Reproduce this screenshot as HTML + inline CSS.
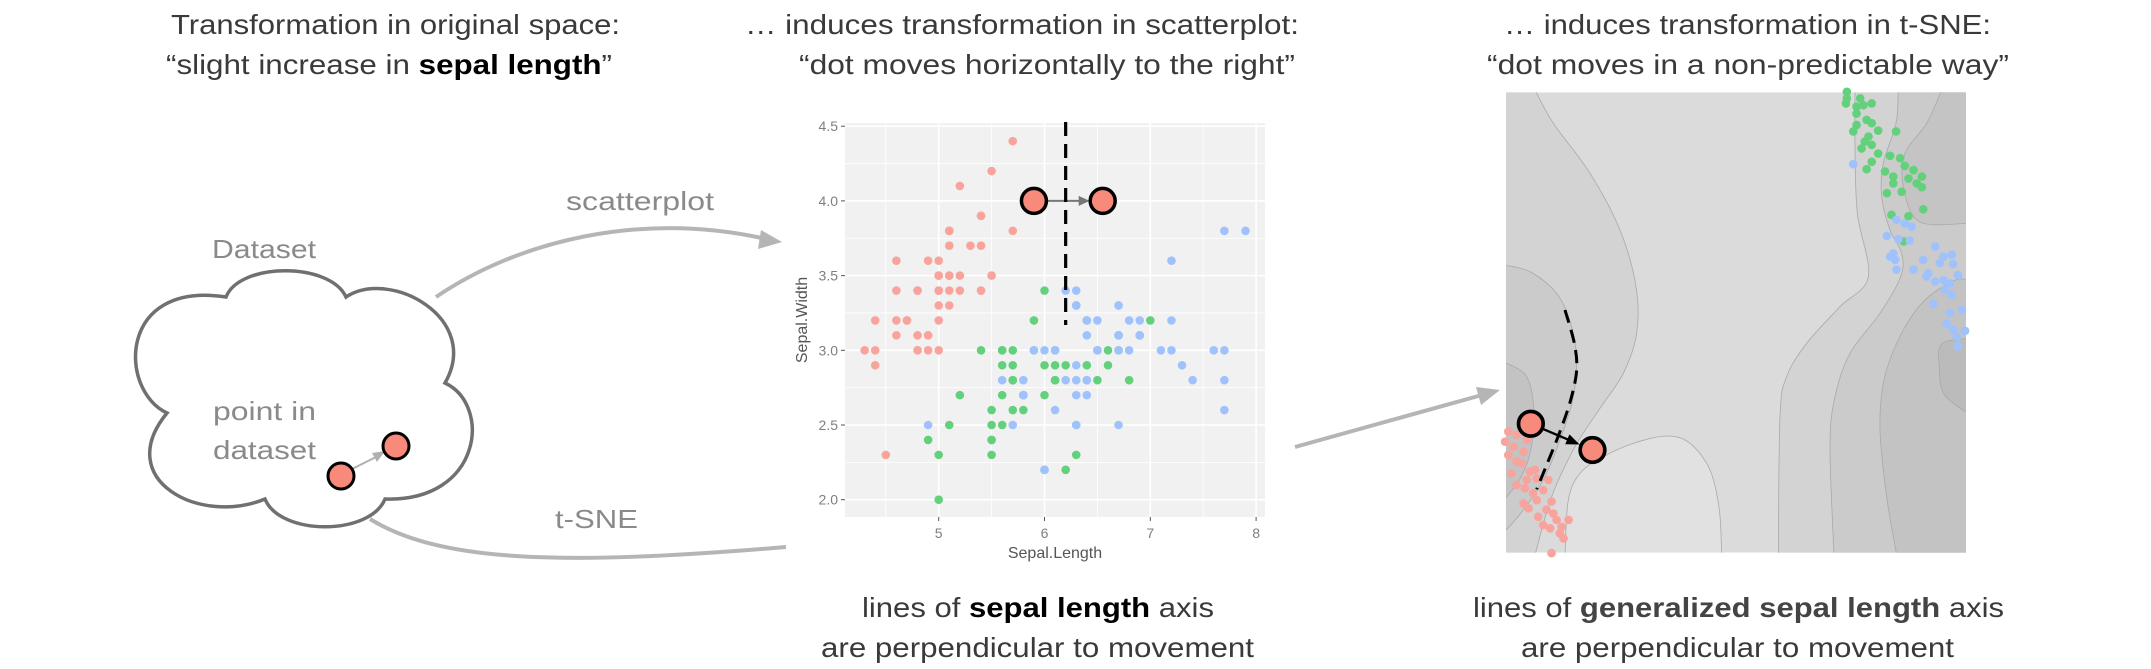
<!DOCTYPE html>
<html><head><meta charset="utf-8">
<style>
html,body{margin:0;padding:0;background:#fff;}
svg{display:block;}
text{font-family:"Liberation Sans",Arial,sans-serif;}
</style></head>
<body>
<svg id="fig" width="2151" height="669" viewBox="0 0 2151 669" xmlns="http://www.w3.org/2000/svg">
<defs>
<clipPath id="tsneClip"><rect x="78" y="37" width="1380" height="1381"/></clipPath>
</defs>
<rect width="2151" height="669" fill="#fff"/>

<!-- headings -->
<g fill="#3a3a3a" font-size="28">
<text x="171" y="34" textLength="449" lengthAdjust="spacingAndGlyphs">Transformation in original space:</text>
<text x="166" y="74" textLength="446" lengthAdjust="spacingAndGlyphs">“slight increase in <tspan font-weight="bold" fill="#000">sepal length</tspan>”</text>
</g>
<g fill="#3a3a3a" font-size="28">
<text x="745" y="34" textLength="554" lengthAdjust="spacingAndGlyphs">… induces transformation in scatterplot:</text>
<text x="799" y="74" textLength="496" lengthAdjust="spacingAndGlyphs">“dot moves horizontally to the right”</text>
</g>
<g fill="#3a3a3a" font-size="28">
<text x="1504" y="34" textLength="487" lengthAdjust="spacingAndGlyphs">… induces transformation in t-SNE:</text>
<text x="1487" y="74" textLength="522" lengthAdjust="spacingAndGlyphs">“dot moves in a non-predictable way”</text>
</g>
<g fill="#3a3a3a" font-size="28">
<text x="862" y="617" textLength="352" lengthAdjust="spacingAndGlyphs">lines of <tspan font-weight="bold" fill="#000">sepal length</tspan> axis</text>
<text x="821" y="657" textLength="433" lengthAdjust="spacingAndGlyphs">are perpendicular to movement</text>
</g>
<g fill="#3a3a3a" font-size="28">
<text x="1473" y="617" textLength="531" lengthAdjust="spacingAndGlyphs">lines of <tspan font-weight="bold" fill="#444">generalized sepal length</tspan> axis</text>
<text x="1521" y="657" textLength="433" lengthAdjust="spacingAndGlyphs">are perpendicular to movement</text>
</g>

<!-- cloud -->
<path fill="#fff" stroke="#707070" stroke-width="3.5"
 d="M226,297 C240,262 330,262 346,297 C390,268 482,318 445,383 C492,405 482,502 385,499 C370,536 280,536 265,499 C200,526 112,480 167,413 C118,390 118,280 226,297 Z"/>
<g fill="#8a8a8a" font-size="26">
<text x="212" y="258" textLength="104" lengthAdjust="spacingAndGlyphs">Dataset</text>
<text x="213" y="420" textLength="103" lengthAdjust="spacingAndGlyphs">point in</text>
<text x="213" y="459" textLength="103" lengthAdjust="spacingAndGlyphs">dataset</text>
<text x="566" y="210" textLength="148" lengthAdjust="spacingAndGlyphs">scatterplot</text>
<text x="555" y="528" textLength="83" lengthAdjust="spacingAndGlyphs">t-SNE</text>
</g>
<g>
<line x1="352" y1="469" x2="378" y2="456" stroke="#b0b0b0" stroke-width="2"/>
<polygon points="385,451 372,453 377,462" fill="#b0b0b0"/>
<ellipse cx="341" cy="476" rx="13" ry="13" fill="#f88a7c" stroke="#000" stroke-width="3"/>
<ellipse cx="396" cy="446" rx="13" ry="13" fill="#f88a7c" stroke="#000" stroke-width="3"/>
</g>

<!-- connecting arrows -->
<path d="M436,297 C520,240 640,212 762,238" fill="none" stroke="#b5b5b5" stroke-width="4"/>
<polygon points="782,242 761,230 758,249" fill="#b5b5b5"/>
<path d="M370,519 C440,562 560,566 786,547" fill="none" stroke="#b5b5b5" stroke-width="4"/>
<line x1="1295" y1="447" x2="1482" y2="395" stroke="#b5b5b5" stroke-width="4"/>
<polygon points="1500,390 1481,405 1476,387" fill="#b5b5b5"/>

<g id="scatter"></g>
<g id="tsne" transform="translate(1480,80) scale(0.33333)"></g>
</svg>

<script>
// ---------- Scatterplot data (iris sepal measurements) ----------
const setosaLength = [5.1,4.9,4.7,4.6,5.0,5.4,4.6,5.0,4.4,4.9,5.4,4.8,4.8,4.3,5.7,5.4,5.1,5.7,5.1,5.4,5.1,4.6,5.1,4.8,5.0,5.0,5.2,5.2,4.7,4.8,5.4,5.2,5.5,4.9,5.0,5.5,4.9,4.4,5.1,5.0,4.5,4.4,5.0,5.1,4.8,5.1,4.6,5.3,5.0];
const setosaWidth  = [3.5,3.0,3.2,3.1,3.6,3.9,3.4,3.4,2.9,3.1,3.7,3.4,3.0,3.0,4.4,3.9,3.5,3.8,3.8,3.4,3.7,3.6,3.3,3.4,3.0,3.4,3.5,3.4,3.2,3.1,3.4,4.1,4.2,3.1,3.2,3.5,3.6,3.0,3.4,3.5,2.3,3.2,3.5,3.8,3.0,3.8,3.2,3.7,3.3];
const versicolorLength = [7.0,6.4,6.9,5.5,6.5,5.7,6.3,4.9,6.6,5.2,5.0,5.9,6.0,6.1,5.6,6.7,5.6,5.8,6.2,5.6,5.9,6.1,6.3,6.1,6.4,6.6,6.8,6.7,6.0,5.7,5.5,5.5,5.8,6.0,5.4,6.0,6.7,6.3,5.6,5.5,5.5,6.1,5.8,5.0,5.6,5.7,5.7,6.2,5.1,5.7];
const versicolorWidth  = [3.2,3.2,3.1,2.3,2.8,2.8,3.3,2.4,2.9,2.7,2.0,3.0,2.2,2.9,2.9,3.1,3.0,2.7,2.2,2.5,3.2,2.8,2.5,2.8,2.9,3.0,2.8,3.0,2.9,2.6,2.4,2.4,2.7,2.7,3.0,3.4,3.1,2.3,3.0,2.5,2.6,3.0,2.6,2.3,2.7,3.0,2.9,2.9,2.5,2.8];
const virginicaLength = [6.3,5.8,7.1,6.3,6.5,7.6,4.9,7.3,6.7,7.2,6.5,6.4,6.8,5.7,5.8,6.4,6.5,7.7,7.7,6.0,6.9,5.6,7.7,6.3,6.7,7.2,6.2,6.1,6.4,7.2,7.4,7.9,6.4,6.3,6.1,7.7,6.3,6.4,6.0,6.9,6.7,6.9,5.8,6.8,6.7,6.7,6.3,6.5,6.2,5.9];
const virginicaWidth  = [3.3,2.7,3.0,2.9,3.0,3.0,2.5,2.9,2.5,3.6,3.2,2.7,3.0,2.5,2.8,3.2,3.0,3.8,2.6,2.2,3.2,2.8,2.8,2.7,3.3,3.2,2.8,3.0,2.8,3.0,2.8,3.8,2.8,2.8,2.6,3.0,3.4,3.1,3.0,3.1,3.1,3.1,2.7,3.2,3.3,3.0,2.5,3.0,3.4,3.0];
const xTicks = [5,6,7,8];
const yTicks = [2.0,2.5,3.0,3.5,4.0,4.5];
const xTickLabels = ["5","6","7","8"];
const yTickLabels = ["2.0","2.5","3.0","3.5","4.0","4.5"];
const movedFrom = [5.9, 4.0];
const movedTo = [6.55, 4.0];
const dashedX = 6.2;

// ---------- t-SNE embedding data (0-100 units) ----------
const tsneSetosaX = [0.5,2.3,-0.2,4.5,1.6,0.5,3.8,2.3,1.2,3.4,5.2,6.3,4.5,2.3,6.7,9.2,4.1,8.1,5.9,3.8,4.9,6.7,9.9,8.8,7.0,10.3,8.1,11.0,13.6,12.1,9.6,11.7,12.5,9.9];
const tsneSetosaY = [26.3,25.6,24.1,24.5,23.0,21.2,21.9,19.8,17.2,19.4,17.6,18.0,15.8,14.7,16.1,15.8,14.0,13.6,12.9,10.7,9.6,11.4,11.1,9.3,7.8,8.5,6.0,7.1,7.1,5.6,5.3,4.2,3.1,-0.1];
const tsneVersicolorX = [74.1,74.1,73.9,77.0,76.2,79.5,77.7,76.2,78.4,79.5,76.2,75.5,80.9,84.8,78.8,78.0,79.5,77.3,80.9,79.5,78.4,83.5,85.7,82.4,84.2,86.7,88.6,87.5,90.4,89.3,84.2,90.4,82.8,86.0,90.7,83.8,87.5,86.4];
const tsneVersicolorY = [100.1,98.7,97.6,98.7,96.9,97.6,97.2,95.4,94.0,93.3,92.9,91.5,91.7,91.5,90.4,89.3,88.6,87.8,86.7,84.9,83.3,86.2,85.7,82.8,81.7,84.0,83.1,81.3,81.7,80.2,80.2,79.4,78.1,78.4,74.6,73.4,73.1,67.6];
const tsneVirginicaX = [75.5,84.9,86.7,88.2,82.8,85.3,87.8,84.2,83.5,84.6,84.9,88.6,90.7,93.3,95.1,96.9,94.3,97.2,91.8,93.3,95.1,96.5,98.3,91.4,95.4,96.9,92.9,96.5,99.1,95.8,97.2,99.8,98.0,98.3];
const tsneVirginicaY = [84.4,72.3,71.5,70.8,68.8,68.1,67.8,65.0,64.3,63.6,61.5,61.5,63.6,66.5,64.3,64.7,62.9,62.7,60.7,58.9,59.2,58.5,60.3,60.0,57.1,56.0,54.0,52.1,52.7,49.7,48.4,48.2,46.9,44.8];
const tsneMovedFrom = [5.4, 28.0];
const tsneMovedTo = [18.8, 22.3];

const NS = "http://www.w3.org/2000/svg";
function mk(parent, tag, attrs){
  const e = document.createElementNS(NS, tag);
  for (const k in attrs) e.setAttribute(k, attrs[k]);
  parent.appendChild(e);
  return e;
}

// ----- scatterplot -----
const sc = document.getElementById('scatter');
const P = {x0:845, x1:1265, y0:123, y1:517};
const sx = v => 938.7 + (v-5)*105.8;
const sy = v => 499.7 - (v-2)*149.4;

const panel = mk(sc,'rect',{x:P.x0,y:P.y0,width:P.x1-P.x0,height:P.y1-P.y0,fill:'#f1f1f1'});



for (let v=4.5; v<=8.01; v+=0.5){
  const major = Math.abs(v-Math.round(v))<1e-6;
  const g = mk(sc,'line',{x1:sx(v),x2:sx(v),y1:P.y0,y2:P.y1,stroke:'#fff','stroke-width':major?1.6:0.8});
  
  
}
for (let v=2.0; v<=4.51; v+=0.25){
  const major = Math.abs(v*2-Math.round(v*2))<1e-6;
  const g = mk(sc,'line',{x1:P.x0,x2:P.x1,y1:sy(v),y2:sy(v),stroke:'#fff','stroke-width':major?1.6:0.8});
  
  
}
xTicks.forEach((v,i)=>{
  const t = mk(sc,'line',{x1:sx(v),x2:sx(v),y1:P.y1,y2:P.y1+4,stroke:'#555','stroke-width':1});
  
  
  const l = mk(sc,'text',{x:sx(v),y:538,'text-anchor':'middle','font-size':14,fill:'#7f7f7f'});
  l.textContent = xTickLabels[i];
  
  
});
yTicks.forEach((v,i)=>{
  const t = mk(sc,'line',{x1:P.x0-4,x2:P.x0,y1:sy(v),y2:sy(v),stroke:'#555','stroke-width':1});
  
  
  const l = mk(sc,'text',{x:P.x0-7,y:sy(v)+5,'text-anchor':'end','font-size':14,fill:'#7f7f7f'});
  l.textContent = yTickLabels[i];
  
  
});
const xt = mk(sc,'text',{x:1055,y:558,'text-anchor':'middle','font-size':16,fill:'#555'});
xt.textContent = 'Sepal.Length';


const yt = mk(sc,'text',{x:0,y:0,'text-anchor':'middle','font-size':16,fill:'#555',transform:'translate(807,320) rotate(-90)'});
yt.textContent = 'Sepal.Width';



function drawSeries(xs, ys, color, name){
  xs.forEach((x,i)=>{
    const c = mk(sc,'circle',{cx:sx(x),cy:sy(ys[i]),r:4.3,fill:color});
    
    
  });
}
drawSeries(setosaLength, setosaWidth, '#f8a49d', 'setosa-point');
drawSeries(versicolorLength, versicolorWidth, '#63d17c', 'versicolor-point');
drawSeries(virginicaLength, virginicaWidth, '#a0c2fc', 'virginica-point');

const ax1 = sx(movedFrom[0]), ax2 = sx(movedTo[0]), ay = sy(movedFrom[1]);
const ml = mk(sc,'line',{x1:ax1+13,y1:ay,x2:ax2-22,y2:ay,stroke:'#777','stroke-width':2});


const mh = mk(sc,'polygon',{points:`${ax2-13},${ay} ${ax2-24},${ay-5} ${ax2-24},${ay+5}`,fill:'#777'});


const dl = mk(sc,'line',{x1:sx(dashedX),x2:sx(dashedX),y1:122,y2:325,stroke:'#000','stroke-width':3.2,'stroke-dasharray':'14 8'});


[movedFrom, movedTo].forEach((p,i)=>{
  const c = mk(sc,'circle',{cx:sx(p[0]),cy:sy(p[1]),r:12.5,fill:'#f88a7c',stroke:'#000','stroke-width':3.5});
  
  
});

// ----- t-SNE (drawn in 3x zoom coords) -----
const ts = document.getElementById('tsne');
const tx = v => 78 + v*13.8;
const ty = v => 37 + (100-v)*13.81;
function smooth(pts){
  let d = `M${pts[0][0]},${pts[0][1]}`;
  for (let i=0;i<pts.length-1;i++){
    const p0=pts[Math.max(0,i-1)], p1=pts[i], p2=pts[i+1], p3=pts[Math.min(pts.length-1,i+2)];
    const c1=[p1[0]+(p2[0]-p0[0])/6, p1[1]+(p2[1]-p0[1])/6];
    const c2=[p2[0]-(p3[0]-p1[0])/6, p2[1]-(p3[1]-p1[1])/6];
    d += ` C${c1[0]},${c1[1]} ${c2[0]},${c2[1]} ${p2[0]},${p2[1]}`;
  }
  return d;
}
const clipG = mk(ts,'g',{'clip-path':'url(#tsneClip)'});


mk(clipG,'rect',{x:78,y:37,width:1380,height:1381,fill:'#dbdbdb'});
function region(pts, tail, fill, name){
  const d = smooth(pts) + tail.map(p=>` L${p[0]},${p[1]}`).join('') + ' Z';
  const e = mk(clipG,'path',{d:d,fill:fill,stroke:'#a9a9a9','stroke-width':2.4});
  
  
}
const L1 = [[165,30],[220,130],[330,280],[420,450],[468,620],[470,760],[430,880],[360,985],[285,1100],[215,1250],[165,1425]];
const L2 = [[70,555],[150,575],[230,640],[272,730],[290,840],[278,960],[240,1080],[190,1200],[130,1290],[70,1360]];
const L3 = [[70,845],[140,890],[162,1000],[150,1120],[118,1200],[70,1262]];
const LB = [[255,1425],[265,1260],[300,1180],[370,1130],[460,1090],[560,1068],[630,1090],[690,1170],[718,1290],[725,1425]];
const R1 = [[1125,30],[1125,200],[1132,400],[1165,590],[1080,680],[980,790],[920,890],[900,1010],[895,1425]];
const R2 = [[1255,30],[1248,130],[1210,250],[1205,350],[1230,450],[1265,520],[1262,590],[1200,700],[1110,820],[1065,950],[1050,1100],[1062,1425]];
const R3 = [[1385,30],[1340,130],[1275,220],[1270,320],[1318,425],[1465,430]];
const R4 = [[1465,600],[1420,602],[1330,665],[1262,765],[1212,900],[1200,1050],[1220,1250],[1250,1425]];
const R5 = [[1465,775],[1385,792],[1378,860],[1392,942],[1465,1002]];
region(L1, [[60,1425],[60,30]], '#d3d3d3', 'tsne-band-left-1');
region(L2, [[60,1425]], '#cbcbcb', 'tsne-band-left-2');
region(L3, [], '#c3c3c3', 'tsne-band-left-3');
region(LB, [], '#e1e1e1', 'tsne-band-bottom-light');
region(R1, [[1470,1425],[1470,30]], '#d3d3d3', 'tsne-band-right-1');
region(R2, [[1470,1425],[1470,30]], '#cbcbcb', 'tsne-band-right-2');
region(R3, [[1470,30]], '#c4c4c4', 'tsne-band-right-3');
region(R4, [[1470,1425]], '#c3c3c3', 'tsne-band-right-4');
region(R5, [], '#bbbbbb', 'tsne-band-right-5');

function drawTsne(xs, ys, color, name){
  xs.forEach((x,i)=>{
    const c = mk(ts,'circle',{cx:tx(x),cy:ty(ys[i]),r:13,fill:color});
    
    
  });
}
drawTsne(tsneSetosaX, tsneSetosaY, '#f8a49d', 'tsne-setosa-point');
drawTsne(tsneVersicolorX, tsneVersicolorY, '#63d17c', 'tsne-versicolor-point');
drawTsne(tsneVirginicaX, tsneVirginicaY, '#a0c2fc', 'tsne-virginica-point');

const dc = mk(ts,'path',{d:smooth([[255,690],[283,790],[290,870],[272,960],[238,1060],[202,1150],[170,1228]]),fill:'none',stroke:'#000','stroke-width':9,'stroke-dasharray':'40 22'});



const f = [tx(tsneMovedFrom[0]), ty(tsneMovedFrom[1])];
const t2 = [tx(tsneMovedTo[0]), ty(tsneMovedTo[1])];
const dx = t2[0]-f[0], dy = t2[1]-f[1], len = Math.hypot(dx,dy);
const ux = dx/len, uy = dy/len;
const tip = [t2[0]-ux*42, t2[1]-uy*42];
const base = [tip[0]-ux*40, tip[1]-uy*40];
const al = mk(ts,'line',{x1:f[0],y1:f[1],x2:base[0]+ux*5,y2:base[1]+uy*5,stroke:'#000','stroke-width':7});


const ah = mk(ts,'polygon',{points:`${tip[0]},${tip[1]} ${base[0]-uy*16},${base[1]+ux*16} ${base[0]+uy*16},${base[1]-ux*16}`,fill:'#000'});


[f, t2].forEach((p,i)=>{
  const c = mk(ts,'circle',{cx:p[0],cy:p[1],r:37,fill:'#f88a7c',stroke:'#000','stroke-width':11});
  
  
});
</script>
</body></html>
